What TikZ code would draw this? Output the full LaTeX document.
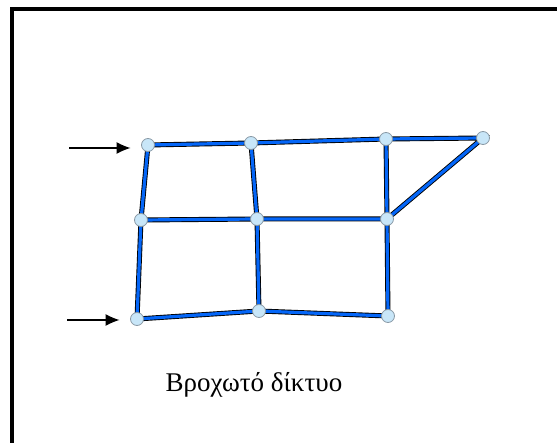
\documentclass[tikz,border=0pt]{standalone}
\usepackage{fontspec}
\setmainfont{Liberation Serif}
\usetikzlibrary{arrows.meta,backgrounds}
\definecolor{pipeblue}{HTML}{0466F8}
\definecolor{jointfill}{HTML}{C8E6F8}
\definecolor{jointline}{HTML}{8A9AA6}
\tikzset{
  joint/.style={circle, draw=jointline, fill=jointfill, line width=0.8pt,
                minimum size=13pt, inner sep=0pt},
  pipe/.style={draw=black, line width=0.9pt, double=pipeblue, double distance=3.2pt},
  feed/.style={-{Latex[length=14pt,width=12pt]}, line width=1.1pt, shorten >=17.5pt},
}

\begin{document}
\begin{tikzpicture}[x=1pt, y=-1pt]
    \useasboundingbox (0,0) rectangle (557,443);
    \clip (0,0) rectangle (557,443);
    \draw[line width=4pt] (12,460) -- (12,9) -- (580,9);
    % joints of the looped network
    \node[joint] (a) at (148,145) {};
    \node[joint] (b) at (251,143) {};
    \node[joint] (c) at (386,139) {};
    \node[joint] (d) at (483,138) {};
    \node[joint] (e) at (141,220) {};
    \node[joint] (f) at (257,219) {};
    \node[joint] (g) at (387,219) {};
    \node[joint] (h) at (137,319) {};
    \node[joint] (i) at (259,311) {};
    \node[joint] (j) at (388,316) {};
    \begin{pgfonlayer}{background}
      \draw[pipe] (a.center) -- (b.center) -- (c.center) -- (d.center) -- (g.center);
      \draw[pipe] (e.center) -- (f.center) -- (g.center);
      \draw[pipe] (h.center) -- (i.center) -- (j.center);
      \draw[pipe] (a.center) -- (e.center) -- (h.center);
      \draw[pipe] (b.center) -- (f.center) -- (i.center);
      \draw[pipe] (c.center) -- (g.center) -- (j.center);
    \end{pgfonlayer}
    % inflows
    \coordinate (in1) at (69,148);
    \coordinate (in2) at (67,320);
    \draw[feed] (in1) -- (in1 -| a);
    \draw[feed] (in2) -- (in2 -| h);
    \node[font=\fontsize{27}{32}\selectfont, anchor=base] (title) at (254,392) {Βροχωτό δίκτυο};
  \end{tikzpicture}
\end{document}
